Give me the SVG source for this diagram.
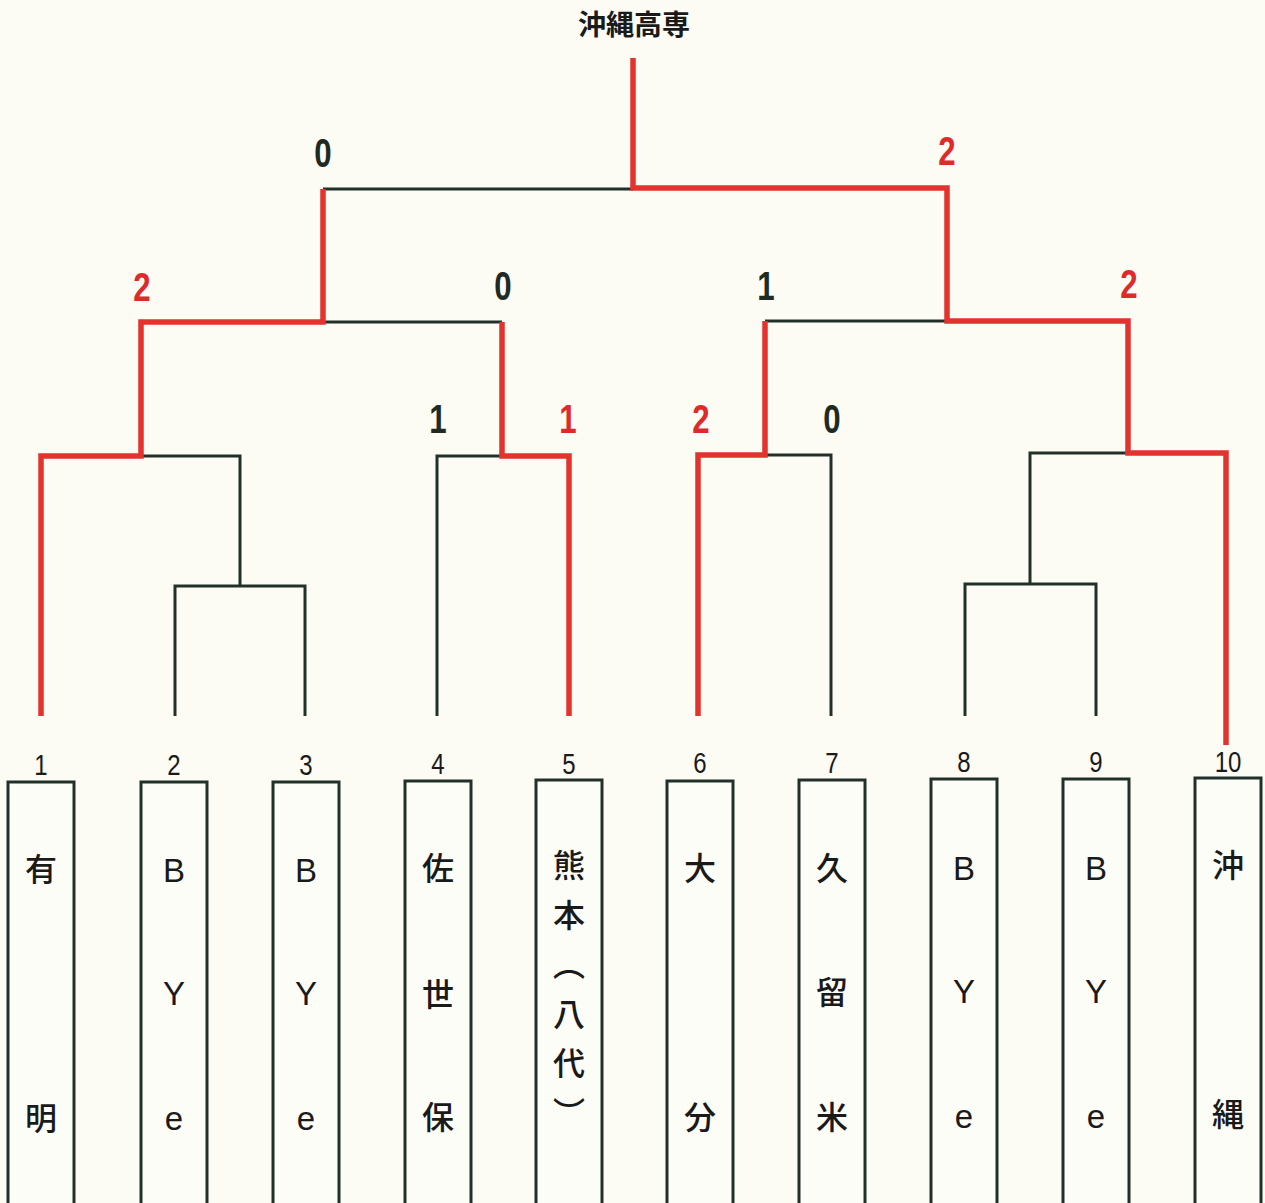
<svg xmlns="http://www.w3.org/2000/svg" width="1265" height="1203" viewBox="0 0 1265 1203">
<style>
.bg{fill:#fcfbf4}
.dk{fill:none;stroke:#22302a;stroke-width:3;stroke-linejoin:miter;stroke-linecap:butt}
.rd{fill:none;stroke:#e2332e;stroke-width:5.5;stroke-linejoin:miter;stroke-linecap:butt}
.box{fill:#fdfdf8;stroke:#22302a;stroke-width:3}
.num{font-family:"Liberation Sans",sans-serif;font-size:30px;fill:#1a1a1a;text-anchor:middle}
.sc{font-family:"Liberation Sans",sans-serif;font-size:40px;font-weight:bold;text-anchor:middle}
.scd{fill:#1e2a22}
.scr{fill:#dd2a2a}
.nm{font-family:"Noto Sans CJK JP","Noto Sans",sans-serif;font-size:32px;font-weight:500;fill:#1a1a1a;text-anchor:middle}
.lt{font-family:"Liberation Sans",Arial,sans-serif;font-size:33px;fill:#1a1a1a;text-anchor:middle}
.title{font-family:"Noto Sans CJK JP",sans-serif;font-size:28px;font-weight:bold;fill:#1a1a1a;text-anchor:middle}
</style>
<rect class="bg" x="0" y="0" width="1265" height="1203"/>
<text class="title" x="634" y="35">沖縄高専</text>
<g id="connectors">
<path class="dk" d="M323,189 H633"/>
<path class="dk" d="M323,322 H502"/>
<path class="dk" d="M141,456 H240 V586"/>
<path class="dk" d="M175,716 V586 H305 V716"/>
<path class="dk" d="M437,716 V456 H502"/>
<path class="dk" d="M765,321 H947"/>
<path class="dk" d="M765,455 H831 V716"/>
<path class="dk" d="M1128,453 H1030 V584"/>
<path class="dk" d="M965,716 V584 H1096 V716"/>
<path class="rd" d="M633,58 V188 H947 V321 H1128 V453 H1226 V745"/>
<path class="rd" d="M323,189 V322 H141 V456 H41 V716"/>
<path class="rd" d="M502,322 V456 H569 V716"/>
<path class="rd" d="M765,321 V455 H698 V716"/>
</g>
<g id="scores">
<text class="sc scd" transform="translate(323,167) scale(0.78,1)">0</text>
<text class="sc scr" transform="translate(947,165) scale(0.78,1)">2</text>
<text class="sc scr" transform="translate(142,301) scale(0.78,1)">2</text>
<text class="sc scd" transform="translate(503,300) scale(0.78,1)">0</text>
<text class="sc scd" transform="translate(766,300) scale(0.78,1)">1</text>
<text class="sc scr" transform="translate(1129,298) scale(0.78,1)">2</text>
<text class="sc scd" transform="translate(438,433) scale(0.78,1)">1</text>
<text class="sc scr" transform="translate(568,433) scale(0.78,1)">1</text>
<text class="sc scr" transform="translate(701,433) scale(0.78,1)">2</text>
<text class="sc scd" transform="translate(832,433) scale(0.78,1)">0</text>
</g>
<g id="team1">
<rect class="box" x="8" y="782" width="66" height="430"/>
<text class="num" transform="translate(41,775) scale(0.8,1)">1</text>
<text class="nm" x="41" y="881">有</text>
<text class="nm" x="41" y="1130">明</text>
</g>
<g id="team2">
<rect class="box" x="141" y="782" width="66" height="430"/>
<text class="num" transform="translate(174,775) scale(0.8,1)">2</text>
<text class="lt"><tspan x="174" y="882">B</tspan><tspan x="174" y="1005">Y</tspan><tspan x="174" y="1130">e</tspan></text>
</g>
<g id="team3">
<rect class="box" x="273" y="782" width="66" height="430"/>
<text class="num" transform="translate(306,775) scale(0.8,1)">3</text>
<text class="lt"><tspan x="306" y="882">B</tspan><tspan x="306" y="1005">Y</tspan><tspan x="306" y="1130">e</tspan></text>
</g>
<g id="team4">
<rect class="box" x="405" y="781" width="66" height="430"/>
<text class="num" transform="translate(438,774) scale(0.8,1)">4</text>
<text class="nm"><tspan x="438" y="880">佐</tspan><tspan x="438" y="1006">世</tspan><tspan x="438" y="1129">保</tspan></text>
</g>
<g id="team5">
<rect class="box" x="536" y="780" width="66" height="430"/>
<text class="num" transform="translate(569,774) scale(0.8,1)">5</text>
<text class="nm" x="569" y="849" style="writing-mode:vertical-rl;text-anchor:start;letter-spacing:17.5px">熊本（八代）</text>
</g>
<g id="team6">
<rect class="box" x="667" y="781" width="66" height="430"/>
<text class="num" transform="translate(700,773) scale(0.8,1)">6</text>
<text class="nm"><tspan x="700" y="880">大</tspan><tspan x="700" y="1129">分</tspan></text>
</g>
<g id="team7">
<rect class="box" x="799" y="780" width="66" height="430"/>
<text class="num" transform="translate(832,773) scale(0.8,1)">7</text>
<text class="nm"><tspan x="832" y="880">久</tspan><tspan x="832" y="1004">留</tspan><tspan x="832" y="1129">米</tspan></text>
</g>
<g id="team8">
<rect class="box" x="931" y="779" width="66" height="430"/>
<text class="num" transform="translate(964,772) scale(0.8,1)">8</text>
<text class="lt"><tspan x="964" y="880">B</tspan><tspan x="964" y="1003">Y</tspan><tspan x="964" y="1128">e</tspan></text>
</g>
<g id="team9">
<rect class="box" x="1063" y="779" width="66" height="430"/>
<text class="num" transform="translate(1096,772) scale(0.8,1)">9</text>
<text class="lt"><tspan x="1096" y="880">B</tspan><tspan x="1096" y="1003">Y</tspan><tspan x="1096" y="1128">e</tspan></text>
</g>
<g id="team10">
<rect class="box" x="1195" y="778" width="66" height="430"/>
<text class="num" transform="translate(1228,772) scale(0.8,1)">10</text>
<text class="nm"><tspan x="1228" y="877">沖</tspan><tspan x="1228" y="1126">縄</tspan></text>
</g>
</svg>
